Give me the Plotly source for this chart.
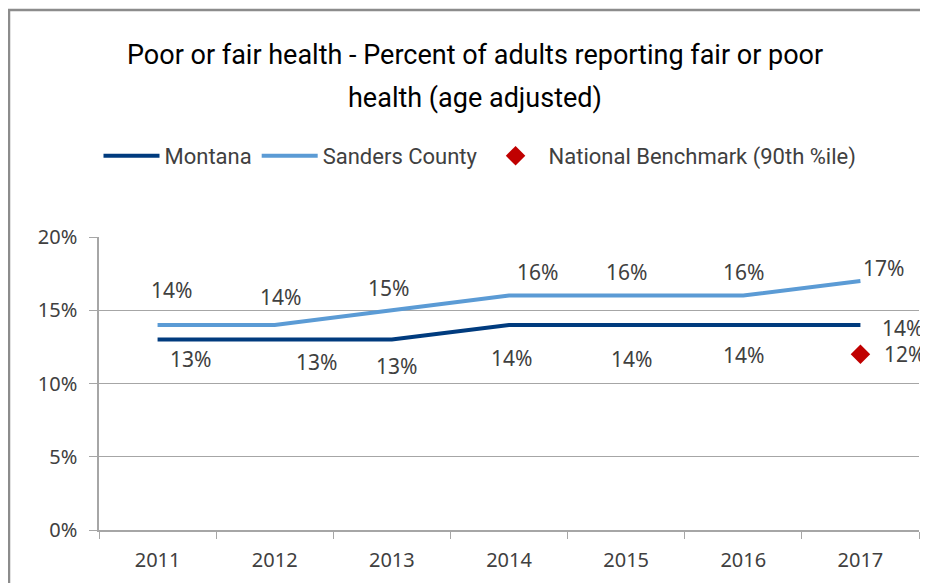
import plotly.graph_objects as go

# chart data
years = ["2011", "2012", "2013", "2014", "2015", "2016", "2017"]
montana = [0.13, 0.13, 0.13, 0.14, 0.14, 0.14, 0.14]
sanders = [0.14, 0.14, 0.15, 0.16, 0.16, 0.16, 0.17]
benchmark_year = ["2017"]
benchmark = [0.12]

# label nudges (pixels), moved by hand in the original
sanders_dx = [14, 6, -3, 28, 0, 0, 23]
sanders_dy = [35, 28, 22, 24, 24, 24, 13]
montana_dx = [33, 42, 5, 2, 5, 0, 42]
montana_dy = [-19, -22, -26, -33, -34, -30, -3]

NAVY = "#003b7e"
LIGHT = "#5b9bd5"
RED = "#c00000"
GRID = "#a6a6a6"
TXT = "#404040"
NARROW = "Roboto, Liberation Sans Narrow, sans-serif"
SANS = "Noto Sans, Open Sans, sans-serif"

# the page body has an 8px margin, so the figure is 8px smaller than the window
W, H = 920, 575
PL, PR, PT, PB = 91, 9, 229, 53
PW, PH = W - PL - PR, H - PT - PB


def px(xp):
    # page x pixel -> paper x
    return (xp - 8 - PL) / PW


def py(yp):
    # page y pixel -> paper y
    return (H - PB - (yp - 8)) / PH


fig = go.Figure()

fig.add_trace(
    go.Scatter(
        x=years,
        y=montana,
        mode="lines",
        name="Montana",
        line=dict(color=NAVY, width=4),
        hoverinfo="skip",
    )
)
fig.add_trace(
    go.Scatter(
        x=years,
        y=sanders,
        mode="lines",
        name="Sanders County",
        line=dict(color=LIGHT, width=4),
        hoverinfo="skip",
    )
)
fig.add_trace(
    go.Scatter(
        x=benchmark_year,
        y=benchmark,
        mode="markers",
        name="National Benchmark (90th %ile)",
        marker=dict(symbol="diamond", color=RED, size=15),
        hoverinfo="skip",
    )
)

label_font = dict(family=SANS, size=21, color=TXT)
annotations = []
# category index is used so the numeric-looking year strings are not read as positions
for yr, v, dx, dy in zip(years, sanders, sanders_dx, sanders_dy):
    annotations.append(
        dict(x=years.index(yr), y=v, text=f"{v:.0%}", showarrow=False,
             xshift=dx, yshift=dy, font=label_font)
    )
for yr, v, dx, dy in zip(years, montana, montana_dx, montana_dy):
    annotations.append(
        dict(x=years.index(yr), y=v, text=f"{v:.0%}", showarrow=False,
             xshift=dx, yshift=dy, font=label_font)
    )
for yr, v in zip(benchmark_year, benchmark):
    annotations.append(
        dict(x=years.index(yr), y=v, text=f"{v:.0%}", showarrow=False,
             xshift=44, yshift=0, font=label_font)
    )

# title, two lines placed separately
title_font = dict(family=NARROW, size=27, color="black")
annotations.append(
    dict(xref="paper", yref="paper", x=px(475), y=py(55),
         xanchor="center", yanchor="middle",
         text="Poor or fair health - Percent of adults reporting fair or poor",
         showarrow=False, font=title_font)
)
annotations.append(
    dict(xref="paper", yref="paper", x=px(475), y=py(98),
         xanchor="center", yanchor="middle",
         text="health (age adjusted)", showarrow=False, font=title_font)
)

# outer frame (left and top edges)
shapes = [
    dict(type="line", xref="paper", yref="paper",
         x0=px(9), x1=px(9), y0=py(10), y1=py(600),
         line=dict(color="#8c8c8c", width=2.5)),
    dict(type="line", xref="paper", yref="paper",
         x0=px(8), x1=px(940), y0=py(10), y1=py(10),
         line=dict(color="#8c8c8c", width=2.5)),
]

fig.update_layout(
    width=W,
    height=H,
    margin=dict(l=PL, r=PR, t=PT, b=PB),
    paper_bgcolor="white",
    plot_bgcolor="white",
    showlegend=True,
    legend=dict(
        orientation="h",
        xref="container",
        yref="container",
        x=(480 - 8) / W,
        xanchor="center",
        y=1 - (156 - 8) / H,
        yanchor="middle",
        font=dict(family=NARROW, size=22, color=TXT),
        itemwidth=56,
    ),
    xaxis=dict(
        type="category",
        range=[-0.5, 6.5],
        tickson="boundaries",
        ticks="outside",
        ticklen=7,
        tickcolor=GRID,
        showline=True,
        linecolor=GRID,
        linewidth=1.5,
        showgrid=False,
        tickangle=0,
        automargin=False,
        tickfont=dict(family=SANS, size=20, color=TXT),
        ticklabelstandoff=11,
        fixedrange=True,
    ),
    yaxis=dict(
        range=[0, 0.2],
        dtick=0.05,
        tickformat=".0%",
        ticks="outside",
        ticklen=8,
        tickcolor=GRID,
        showline=True,
        linecolor=GRID,
        linewidth=1.5,
        showgrid=True,
        gridcolor=GRID,
        gridwidth=1,
        zeroline=False,
        automargin=False,
        tickfont=dict(family=SANS, size=20, color=TXT),
        ticklabelstandoff=8,
        fixedrange=True,
    ),
    annotations=annotations,
    shapes=shapes,
)

fig.write_html("out.html")
